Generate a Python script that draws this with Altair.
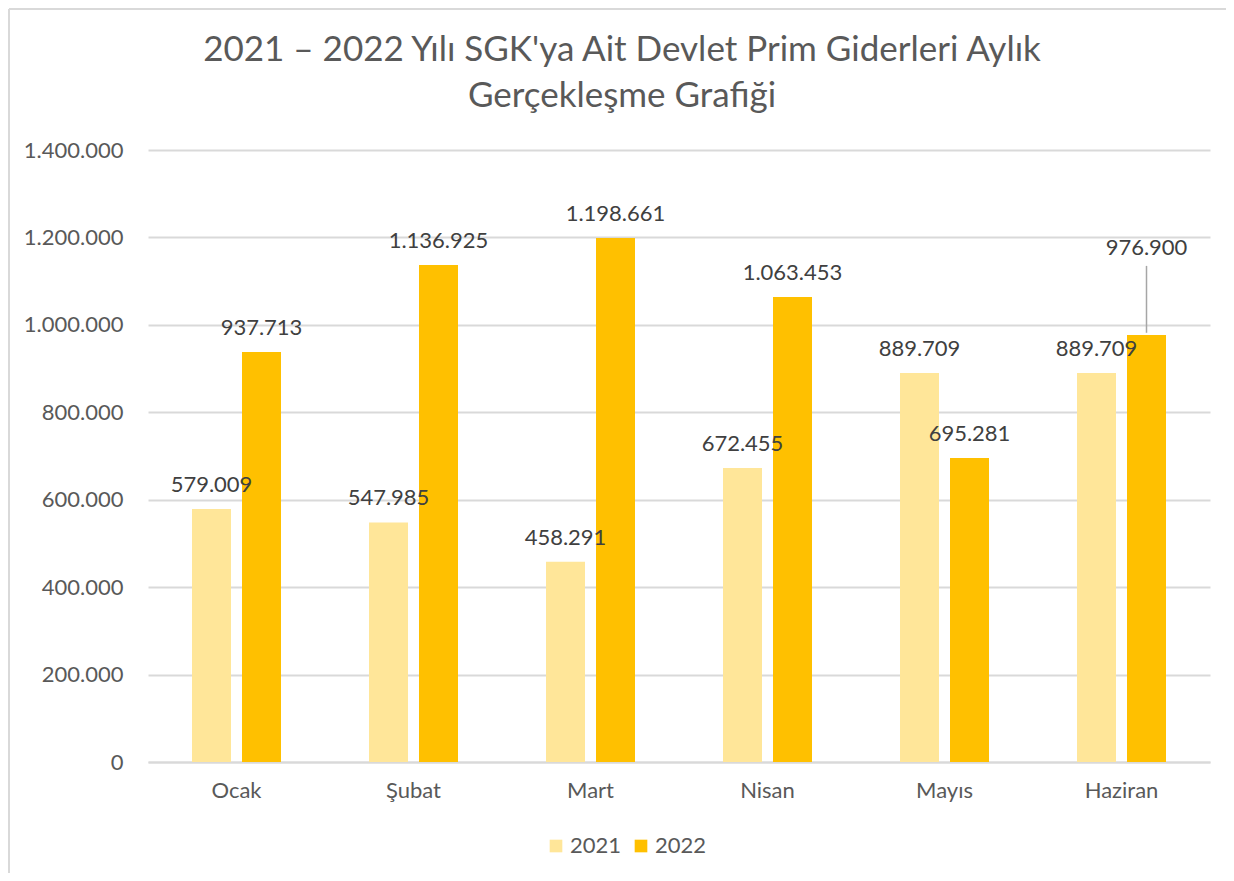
import altair as alt
import pandas as pd

months = ["Ocak", "Şubat", "Mart", "Nisan", "Mayıs", "Haziran"]
v2021 = [579009, 547985, 458291, 672455, 889709, 889709]
v2022 = [937713, 1136925, 1198661, 1063453, 695281, 976900]
years = ["2021", "2022"]
colors = ["#FFE699", "#FFC000"]
y_ticks = [0, 200000, 400000, 600000, 800000, 1000000, 1200000, 1400000]

rows = []
for m, a, b in zip(months, v2021, v2022):
    rows.append({"month": m, "year": "2021", "value": a})
    rows.append({"month": m, "year": "2022", "value": b})
df = pd.DataFrame(rows)

FONT = "Lato"
FS = 22
x_enc = alt.X("month:N", sort=months, scale=alt.Scale(paddingInner=0, paddingOuter=0),
              axis=alt.Axis(title=None, labelAngle=0, labelFontSize=FS, labelColor="#595959",
                            labelPadding=18, ticks=False, domainColor="#D9D9D9", domainWidth=2,
                            grid=False, labelFont=FONT))
xo_enc = alt.XOffset("year:N", sort=years, scale=alt.Scale(paddingInner=0.22, paddingOuter=0.88))
y_scale = alt.Scale(domain=[0, 1400000], nice=False)

base = alt.Chart(df)

bars = base.mark_bar().encode(
    x=x_enc,
    xOffset=xo_enc,
    y=alt.Y("value:Q", scale=y_scale,
            axis=alt.Axis(title=None, values=y_ticks, format=",d", labelFontSize=FS,
                          labelColor="#595959", labelPadding=25, ticks=False, domain=False,
                          gridColor="#D9D9D9", gridWidth=2, labelFont=FONT)),
    color=alt.Color("year:N", sort=years, scale=alt.Scale(domain=years, range=colors),
                    legend=alt.Legend(title=None, orient="none", legendX=397, legendY=685,
                                      direction="horizontal", symbolType="square",
                                      symbolSize=160, symbolStrokeWidth=0, labelFontSize=FS,
                                      labelColor="#595959", columnPadding=8, labelOffset=3,
                                      labelFont=FONT, symbolOpacity=1)),
)

labels = base.mark_text(fontSize=FS, color="#404040", baseline="alphabetic", dy=-17, font=FONT).encode(
    x=alt.X("month:N", sort=months),
    xOffset=alt.XOffset("year:N", sort=years),
    y=alt.Y("value:Q"),
    text=alt.Text("value:Q", format=",d"),
).transform_filter("!(datum.month == 'Haziran' && datum.year == '2022')")

moved = base.mark_text(fontSize=FS, color="#404040", baseline="alphabetic", dy=-80, font=FONT).encode(
    x=alt.X("month:N", sort=months),
    xOffset=alt.XOffset("year:N", sort=years),
    y=alt.Y("value:Q"),
    text=alt.Text("value:Q", format=",d"),
).transform_filter("datum.month == 'Haziran' && datum.year == '2022'")

leader = base.mark_rule(color="#A6A6A6", strokeWidth=1.5).encode(
    x=alt.X("month:N", sort=months),
    xOffset=alt.XOffset("year:N", sort=years),
    y=alt.Y("lo:Q"),
    y2="hi:Q",
).transform_filter("datum.month == 'Haziran' && datum.year == '2022'").transform_calculate(
    lo="datum.value + 5000", hi="datum.value + 158000")

border_left = alt.Chart(pd.DataFrame({"a": [0]})).mark_rule(color="#D9D9D9", strokeWidth=2).encode(
    x=alt.value(-139), y=alt.value(-141), y2=alt.value(723))
border_top = alt.Chart(pd.DataFrame({"a": [0]})).mark_rule(color="#D9D9D9", strokeWidth=2).encode(
    x=alt.value(-139), x2=alt.value(1078), y=alt.value(-141))

chart = alt.layer(bars, labels, moved, leader, border_left, border_top).properties(
    width=1062, height=612,
    title=alt.TitleParams(["2021 – 2022 Yılı SGK'ya Ait Devlet Prim Giderleri Aylık", "Gerçekleşme Grafiği"],
                          fontSize=35, fontWeight="normal", color="#595959", font=FONT,
                          anchor="middle", dx=-57, dy=134, lineHeight=46, offset=0,
                          baseline="alphabetic"),
    autosize=alt.AutoSizeParams(type="none"),
    padding={"left": 140, "top": 142, "right": 16, "bottom": 111},
).configure(
    locale={"number": {"decimal": ",", "thousands": ".", "grouping": [3], "currency": ["", ""]}}
).configure_view(stroke="transparent", strokeWidth=0)

chart.save("out.html", embed_options={"renderer": "svg", "actions": False})
